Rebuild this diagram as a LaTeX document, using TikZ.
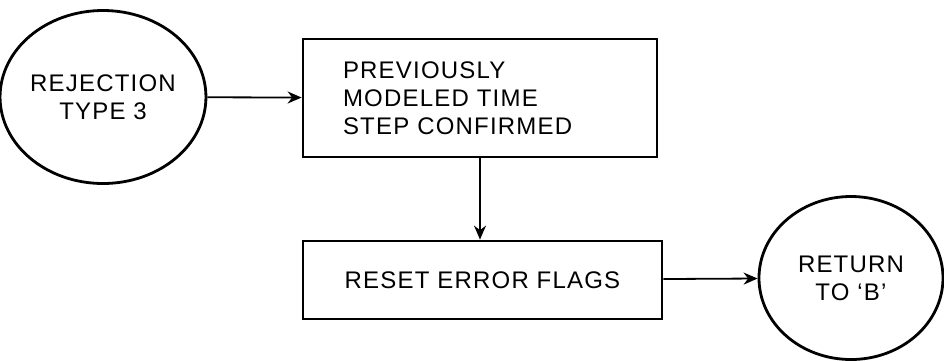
\documentclass[tikz,border=0pt]{standalone}
\usepackage{fontspec}
\setmainfont{Liberation Sans}[LetterSpace=5]
\usetikzlibrary{shapes.geometric,arrows.meta}

\tikzset{
  term/.style={draw,ellipse,line width=1.4pt,align=center,inner sep=0pt},
  procbox/.style={draw,rectangle,line width=1.4pt,align=left,inner xsep=20pt},
  flow/.style={line width=0.9pt,-{Stealth[length=7pt,width=6pt]}}
}

\begin{document}
\begin{tikzpicture}[x=0.5pt,y=-0.5pt,font=\fontsize{12pt}{14pt}\selectfont]
  \useasboundingbox (0,0) rectangle (944,360);
  % entry and exit points
  \node[term,minimum width=94pt,minimum height=86.5pt] at (103,97) (rej) {REJECTION\\TYPE 3};
  \node[term,minimum width=92pt,minimum height=81.5pt] at (851,278) (ret) {RETURN\\TO `B'};
  % the two steps
  \node[procbox,minimum width=177pt,minimum height=59pt,text width=137pt] at (480,98) (prev) {PREVIOUSLY\\MODELED TIME\\STEP CONFIRMED};
  \node[procbox,minimum width=179.5pt,minimum height=39pt] at (482.5,280) (reset) {RESET ERROR FLAGS};
  % connectors
  \draw[flow] (rej) -- (prev);
  \draw[flow] (prev.south) -- (prev.south |- reset.north);
  \draw[flow] (reset) -- (ret);
\end{tikzpicture}
\end{document}
